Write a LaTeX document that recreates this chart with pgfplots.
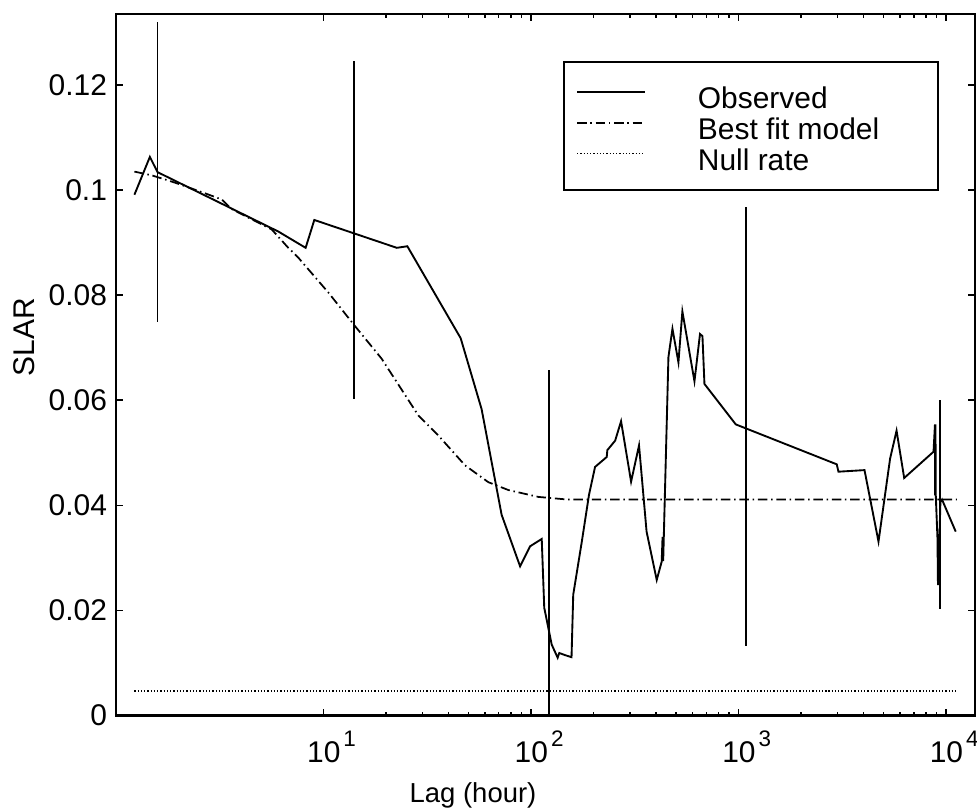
\documentclass[border=0pt]{standalone}
\usepackage{fontspec}
\setmainfont{Liberation Sans}
\usepackage{pgfplots}
\pgfplotsset{compat=1.18}

\newcommand{\tenpow}[1]{10\kern1.2pt\raisebox{1.05ex}{\fontsize{9}{10}\selectfont #1}}

\begin{document}
\begin{tikzpicture}
\begin{axis}[
    name=ax,
    scale only axis,
    width=344.4pt, height=281.2pt,
    xmode=log,
    xmin=1, xmax=13800,
    ymin=0, ymax=0.1335,
    xtick={10,100,1000,10000},
    xticklabels={\tenpow{1},\tenpow{2},\tenpow{3},\tenpow{4}},
    ytick={0,0.02,0.04,0.06,0.08,0.1,0.12},
    yticklabels={0,0.02,0.04,0.06,0.08,0.1,0.12},
    tick align=inside,
    major tick length=2.8pt,
    minor tick length=1.6pt,
    tick style={black, line width=0.6pt},
    axis line style={line width=1pt},
    xticklabel style={font=\fontsize{12}{14}\selectfont, xshift=3.3pt, yshift=-2.5pt},
    yticklabel style={font=\fontsize{12}{14}\selectfont},
    xlabel={Lag (hour)},
    ylabel={SLAR},
    xlabel style={font=\fontsize{11}{13}\selectfont, at={(axis description cs:0.4158,-0.1135)}, anchor=center},
    ylabel style={font=\fontsize{12}{14}\selectfont, at={(axis description cs:-0.107,0.539)}, anchor=center},
    legend style={draw=none, fill=none,
        at={(axis description cs:0.5354,0.8976)}, anchor=north west,
        font=\fontsize{12}{14}\selectfont,
        inner sep=0pt, row sep=0pt,
        nodes={inner sep=0pt, text height=8.8pt, text depth=3.6pt}},
    legend cell align=left,
    legend image code/.code={
        \draw[#1] (0pt,4pt) -- (27.2pt,4pt);
        \path (0pt,0pt) (48pt,0pt);
    },
]

% observed
\addplot[black, line width=0.75pt] coordinates {
    (1.23,0.0991) (1.46,0.1063) (1.59,0.1034) (6.07,0.0921) (8.22,0.0890)
    (9.05,0.0943) (22.6,0.0890) (25.4,0.0893) (45.9,0.0718) (57.9,0.0583)
    (72.3,0.0382) (88.7,0.0284) (99.1,0.0322) (112.8,0.0336) (116,0.0205)
    (126,0.0135) (134.6,0.0110) (137,0.0119) (146,0.0115) (157,0.0111)
    (160,0.0230) (176,0.0331) (190.6,0.0420) (203.8,0.0473) (232,0.0492)
    (233.6,0.0505) (254.7,0.0523) (272,0.0560) (304,0.0445) (332,0.0514)
    (361,0.0350) (404,0.0258) (427,0.0293) (431,0.0340) (434,0.0294)
    (437,0.0340) (460,0.0682) (481,0.0736) (514,0.0672) (537,0.0769)
    (614,0.0636) (653,0.0726) (671,0.0722) (686,0.0631) (971,0.0554)
    (2977,0.0478) (3034,0.0464) (4050,0.0467) (4730,0.0331) (5380,0.0489)
    (5780,0.0542) (6290,0.0452) (8710,0.0502) (8850,0.0554) (8870,0.0419)
    (8900,0.0554) (8930,0.0419) (9100,0.0337) (9150,0.0248) (9200,0.0337)
    (9250,0.0248) (9300,0.0337) (9400,0.0406) (9570,0.0411) (11140,0.0350)
};
\addlegendentry{Observed}

% best fit model
\addplot[black, line width=0.7pt, dash pattern=on 3.8pt off 1.5pt on 0.6pt off 1.5pt] coordinates {
    (1.23,0.1035) (1.49,0.1028) (1.93,0.1014) (2.64,0.0995) (3.24,0.0982)
    (3.61,0.0964) (4.69,0.0941) (5.64,0.0925) (6.78,0.0890) (7.59,0.0871)
    (10.57,0.0805) (13.95,0.0745) (19.1,0.0679) (28.7,0.0571) (35.8,0.0533)
    (48.2,0.0476) (62.4,0.0444) (78,0.0429) (108.7,0.0416) (150,0.0411)
    (11270,0.0411)
};
\addlegendentry{Best fit model}

% null rate
\addplot[black, line width=0.6pt, dash pattern=on 0.5pt off 0.8pt] coordinates {
    (1.23,0.0047) (11270,0.0047)
};
\addlegendentry{Null rate}

% error bars
\addplot[draw=none, forget plot,
    error bars/.cd, y dir=both, y explicit, error mark=none,
    error bar style={draw=black, solid, line width=0.75pt}]
    coordinates {
    (1.59,0.1034) +- (0,0.0285)
    (14.0,0.0924) +- (0,0.0321)
    (122.8,0.0160) +- (0,0.0497)
    (1084,0.0550) +- (0,0.0418)
    (9380,0.0401) +- (0,0.0199)
};

\draw[line width=0.9pt] (axis description cs:0.5215,0.7496) rectangle (axis description cs:0.957,0.9317);
\end{axis}
\pgfresetboundingbox
\path ([shift={(-46.4pt,-37.2pt)}]ax.south west) rectangle ([shift={(0.8pt,5.6pt)}]ax.north east);
\end{tikzpicture}
\end{document}
